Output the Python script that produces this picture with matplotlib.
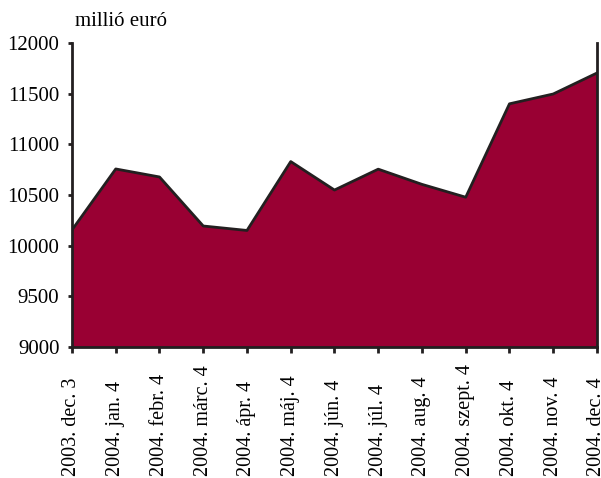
import matplotlib
matplotlib.use('Agg')
import matplotlib.pyplot as plt
import matplotlib.transforms as mtransforms
import numpy as np

plt.rcParams['font.family'] = ['Liberation Serif', 'DejaVu Serif']

labels = ['2003. dec. 3', '2004. jan. 4', '2004. febr. 4', '2004. márc. 4',
          '2004. ápr. 4', '2004. máj. 4', '2004. jún. 4', '2004. júl. 4',
          '2004. aug. 4', '2004. szept. 4', '2004. okt. 4', '2004. nov. 4',
          '2004. dec. 4']
values = [10155, 10757, 10678, 10194, 10150, 10830, 10549, 10755,
          10605, 10478, 11400, 11497, 11704]

fig = plt.figure(figsize=(6.01, 4.78), dpi=100)
ax = fig.add_axes([0.1198, 0.2741, 0.8735, 0.6359])

x = np.arange(len(values))
ax.fill_between(x, 9000, values, color='#990033', linewidth=0)
ax.plot(x, values, color='#231f20', linewidth=2)

ax.set_xlim(0, len(values) - 1)
ax.set_ylim(9000, 12000)
ax.set_yticks(np.arange(9000, 12001, 500))
ax.set_xticks(x)
ax.set_xticklabels([])
ax.tick_params(axis='y', labelsize=15, length=3, width=2, color='#231f20', pad=6)
ax.tick_params(axis='x', length=4, width=2, color='#231f20')

# x labels are bottom-aligned in the reference
trans = mtransforms.blended_transform_factory(ax.transData, fig.transFigure)
for i, lab in enumerate(labels):
    ax.text(i, 0.004, lab, transform=trans, rotation=90, ha='center', va='bottom',
            fontsize=14.5)

ax.spines['top'].set_visible(False)
for s in ['left', 'bottom', 'right']:
    ax.spines[s].set_linewidth(2)
    ax.spines[s].set_color('#231f20')

fig.text(0.125, 0.955, 'millió euró', fontsize=15, ha='left', va='center')

fig.savefig('out.png', dpi=100)
